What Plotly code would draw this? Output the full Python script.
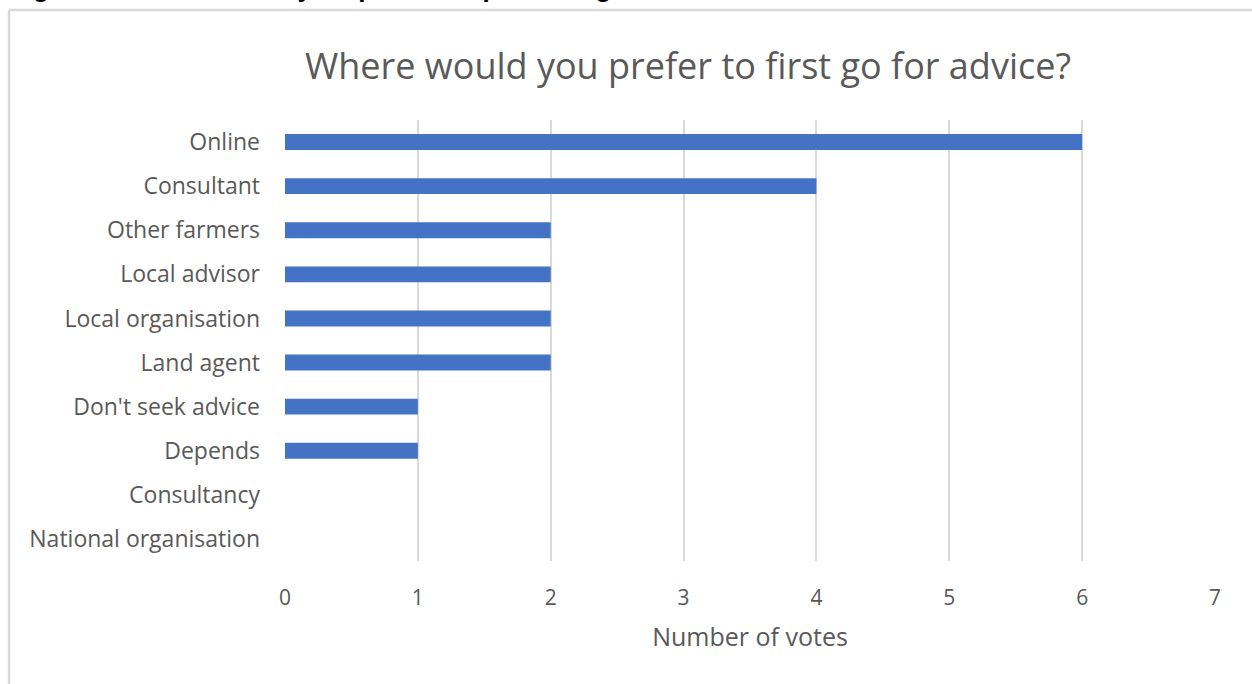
import plotly.graph_objects as go

# Survey responses: preferred first source of advice
categories = [
    "Online", "Consultant", "Other farmers", "Local advisor",
    "Local organisation", "Land agent", "Don't seek advice", "Depends",
    "Consultancy", "National organisation",
]
votes = [6, 4, 2, 2, 2, 2, 1, 1, 0, 0]
x_ticks = [0, 1, 2, 3, 4, 5, 6, 7]

W, H = 1252, 684
L, R, T, B = 285, 37, 120, 123
pw, ph = W - L - R, H - T - B

def px(x):
    return (x - L) / pw

def py(y):
    return 1 - (y - T) / ph

font = "Open Sans, Noto Sans, sans-serif"
grey = "#595959"

fig = go.Figure(go.Bar(
    x=votes, y=categories, orientation="h",
    marker=dict(color="#4472C4", line=dict(width=0)),
    width=0.36,
))

fig.update_layout(
    width=W, height=H,
    margin=dict(l=L, r=R, t=T, b=B),
    paper_bgcolor="white", plot_bgcolor="white",
    showlegend=False,
    font=dict(family=font, color=grey, size=21),
    title=dict(
        text="Where would you prefer to first go for advice?",
        x=px(688), xanchor="center", xref="paper",
        y=1 - 66 / H, yanchor="middle",
        font=dict(size=36, color=grey, family=font),
    ),
    xaxis=dict(
        range=[0, 7], tickvals=x_ticks, showgrid=True,
        gridcolor="#d9d9d9", gridwidth=1.5, zeroline=False,
        showline=False, ticks="", ticklabelstandoff=22,
        tickfont=dict(size=21, color=grey),
        title=dict(text="Number of votes", font=dict(size=25, color=grey), standoff=18),
        fixedrange=True,
    ),
    yaxis=dict(
        categoryorder="array", categoryarray=categories[::-1],
        range=[-0.5, 9.5], showgrid=False, zeroline=False,
        showline=False, ticks="", ticklabelstandoff=24,
        tickfont=dict(size=23, color=grey),
    ),
    shapes=[
        # chart frame (top and left edges)
        dict(type="line", xref="paper", yref="paper",
             x0=px(9), x1=px(W + 5), y0=py(10), y1=py(10),
             line=dict(color="#d9d9d9", width=2.5)),
        dict(type="line", xref="paper", yref="paper",
             x0=px(9), x1=px(9), y0=py(10), y1=py(H + 5),
             line=dict(color="#d9d9d9", width=2.5)),
    ],
    annotations=[
        dict(text="<b>Figure 10: Where survey respondents prefer to go for advice</b>",
             xref="paper", yref="paper", x=px(8), y=py(-12),
             xanchor="left", yanchor="middle", showarrow=False,
             font=dict(size=26, color="black", family="Liberation Sans, Arial, sans-serif")),
    ],
)

fig.write_html("out.html")
